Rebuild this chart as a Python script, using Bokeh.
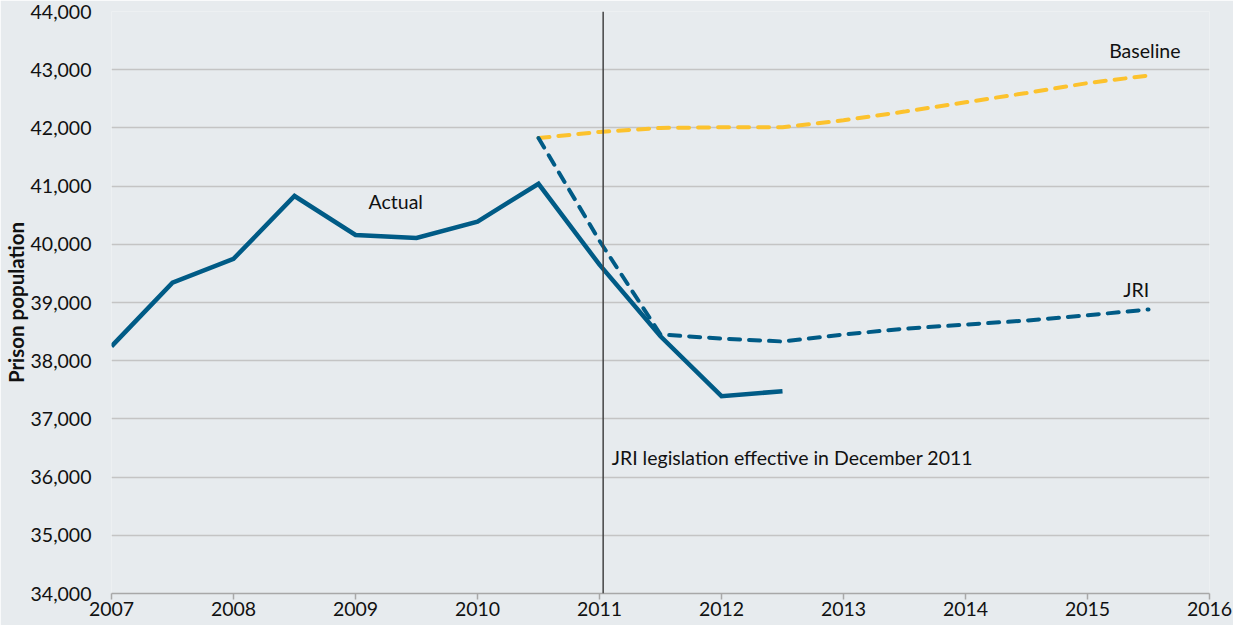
from bokeh.plotting import figure
from bokeh.models import Span, Label, NumeralTickFormatter, FixedTicker, Range1d
from bokeh.embed import file_html
from bokeh.resources import INLINE

# Data
actual_x = [2007.0, 2007.5, 2008.0, 2008.5, 2009.0, 2009.5, 2010.0, 2010.5, 2011.0, 2011.5, 2012.0, 2012.5]
actual_y = [38247, 39340, 39750, 40830, 40160, 40110, 40390, 41040, 39650, 38420, 37390, 37476]

baseline_x = [2010.5, 2011.0, 2011.5, 2012.0, 2012.5, 2013.0, 2013.5, 2014.0, 2014.5, 2015.0, 2015.5]
baseline_y = [41825, 41930, 42000, 42010, 42010, 42130, 42280, 42440, 42600, 42770, 42900]

jri_x = [2010.5, 2011.0, 2011.5, 2012.0, 2012.5, 2013.0, 2013.5, 2014.0, 2014.5, 2015.0, 2015.5]
jri_y = [41825, 40060, 38450, 38380, 38330, 38450, 38550, 38620, 38690, 38780, 38880]

x_ticks = [2007, 2008, 2009, 2010, 2011, 2012, 2013, 2014, 2015, 2016]
y_ticks = [34000, 35000, 36000, 37000, 38000, 39000, 40000, 41000, 42000, 43000, 44000]
legislation_x = 2011.03

BG = "#e7ebee"
BLUE = "#005b86"
YELLOW = "#fcc22d"
FONT = "Lato"

p = figure(width=1233, height=625, output_backend="svg", toolbar_location=None,
           x_range=Range1d(2007, 2016), y_range=Range1d(34000, 44000),
           min_border_left=20, min_border_top=11, min_border_right=24, min_border_bottom=32)
p.background_fill_color = BG
p.border_fill_color = BG
p.outline_line_color = None

p.xgrid.grid_line_color = None
p.ygrid.grid_line_color = "#c4c4c4"
p.ygrid.grid_line_width = 1.5

p.xaxis.ticker = FixedTicker(ticks=x_ticks)
p.yaxis.ticker = FixedTicker(ticks=y_ticks)
p.yaxis.formatter = NumeralTickFormatter(format="0,0")

for ax in (p.xaxis, p.yaxis):
    ax.major_label_text_font = FONT
    ax.major_label_text_font_size = "19.5px"
    ax.major_label_text_color = "#111111"
    ax.minor_tick_line_color = None

p.xaxis.axis_line_color = "#a8a8a8"
p.xaxis.axis_line_width = 1.5
p.xaxis.major_tick_line_color = "#a8a8a8"
p.xaxis.major_tick_line_width = 1.5
p.xaxis.major_tick_in = 0
p.xaxis.major_tick_out = 6
p.xaxis.major_label_standoff = 2

p.yaxis.axis_line_color = None
p.yaxis.major_tick_line_color = None
p.yaxis.major_label_standoff = 14
p.yaxis.axis_label = "Prison population"
p.yaxis.axis_label_text_font = FONT
p.yaxis.axis_label_text_font_style = "bold"
p.yaxis.axis_label_text_font_size = "20.5px"
p.yaxis.axis_label_text_color = "#111111"
p.yaxis.axis_label_standoff = 0

p.add_layout(Span(location=legislation_x, dimension="height", line_color="#444444", line_width=1.5))

p.line(baseline_x, baseline_y, line_color=YELLOW, line_width=4, line_dash="11 9", line_cap="round")
p.line(jri_x, jri_y, line_color=BLUE, line_width=4, line_dash="11 9", line_cap="round")
p.line(actual_x, actual_y, line_color=BLUE, line_width=4.5, line_join="miter")

def lab(x, y, t, align="center"):
    p.add_layout(Label(x=x, y=y, text=t, text_font=FONT, text_font_size="19.5px",
                       text_color="#111111", text_align=align, text_baseline="middle"))

lab(2009.33, 40730, "Actual")
lab(2015.47, 43330, "Baseline")
lab(2015.4, 39220, "JRI")
lab(2011.1, 36330, "JRI legislation effective in December 2011", align="left")

open("out.html", "w").write(file_html(p, INLINE))
